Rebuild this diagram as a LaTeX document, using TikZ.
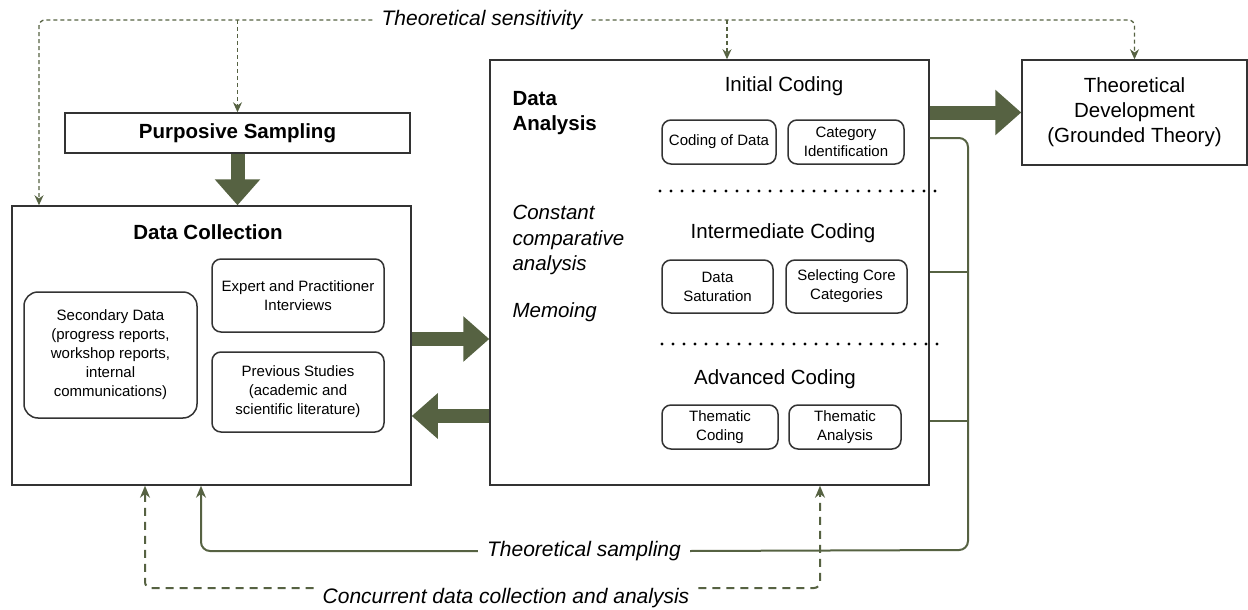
\documentclass[tikz,border=0pt]{standalone}
\usepackage{fontspec}
\setmainfont{Liberation Sans}
\usetikzlibrary{arrows.meta}
\definecolor{flow}{RGB}{86,98,66}
\definecolor{edge}{RGB}{51,51,51}
\begin{document}
\begin{tikzpicture}[x=1pt, y=-1pt,
box/.style={rectangle, draw=edge, line width=1.5pt, inner sep=0pt, align=center},
item/.style={rectangle, rounded corners=9pt, draw=edge, line width=1.5pt, inner sep=0pt, align=center, font=\fontsize{15}{19}\selectfont},
head/.style={font=\fontsize{20.5}{25}\selectfont\bfseries},
stage/.style={font=\fontsize{20.5}{25}\selectfont},
note/.style={font=\fontsize{20.5}{25.5}\selectfont\itshape, align=left, anchor=west},
loop/.style={font=\fontsize{21}{25}\selectfont\itshape, inner xsep=9pt, inner ysep=2pt},
bigarrow/.style={draw=flow, line width=14pt, -{Triangle[length=26pt, width=44pt]}},
sense/.style={draw=flow, line width=1.3pt, dash pattern=on 4pt off 3pt, rounded corners=6pt, -{Stealth[length=10pt, width=9pt]}},
conc/.style={draw=flow, line width=2pt, dash pattern=on 8pt off 6pt, rounded corners=6pt, -{Stealth[length=12pt, width=10pt]}},
back/.style={draw=flow, line width=2pt, rounded corners=9pt},
dots/.style={draw=black, line width=3.2pt, line cap=round, dash pattern=on 0pt off 11pt},
]
\useasboundingbox (0,0) rectangle (1248,610);

\node[box, minimum width=345pt, minimum height=40pt, head] (ps) at (237.5,133) {Purposive Sampling};
\node[box, minimum width=399pt, minimum height=279pt] (dc) at (211.5,345.5) {};
\node[head] (dct) at (208,232) {Data Collection};
\node[item, minimum width=173pt, minimum height=126pt, rounded corners=14pt] (sec) at (110.5,355) {Secondary Data\\(progress reports,\\workshop reports,\\internal\\communications)};
\node[item, minimum width=172pt, minimum height=73pt] (exp) at (298,295.5) {Expert and Practitioner\\Interviews};
\node[item, minimum width=172pt, minimum height=80pt] (prev) at (298,392) {Previous Studies\\(academic and\\scientific literature)};

\node[box, minimum width=439pt, minimum height=425pt] (da) at (709.5,272.5) {};
\node[head, anchor=west, align=left] (dat) at (509,113) {Data\\Analysis};
\node[note] (cca) at (509,240) {Constant\\comparative\\analysis};
\node[note] (memo) at (509,312) {Memoing};

\node[stage] (ini) at (784,86) {Initial Coding};
\node[item, minimum width=114pt, minimum height=44pt] (cod) at (719,142) {Coding of Data};
\node[item, minimum width=116pt, minimum height=44pt] (cat) at (846,142) {Category\\Identification};
\node[stage] (imd) at (783,233) {Intermediate Coding};
\node[item, minimum width=111pt, minimum height=53pt] (sat) at (717.5,286.5) {Data\\Saturation};
\node[item, minimum width=121pt, minimum height=53pt] (core) at (846.5,286.5) {Selecting Core\\Categories};
\node[stage] (adv) at (775,379) {Advanced Coding};
\node[item, minimum width=116pt, minimum height=44pt] (thc) at (720,427) {Thematic\\Coding};
\node[item, minimum width=112pt, minimum height=44pt] (tha) at (845,427) {Thematic\\Analysis};

\draw[dots] (660,191) -- (940,191);
\draw[dots] (662,344) -- (942,344);

\node[box, minimum width=225pt, minimum height=105pt, stage] (td) at (1134.5,112.5) {Theoretical\\Development\\(Grounded Theory)};

\node[loop] (sens) at (482,20) {Theoretical sensitivity};
\node[loop] (samp) at (584,551) {Theoretical sampling};
\node[loop] (cdca) at (506,598) {Concurrent data collection and analysis};

\coordinate (r1) at (0,339);
\coordinate (r2) at (0,416);
\coordinate (g1) at (968,138);
\coordinate (g2) at (968,272);
\coordinate (g3) at (968,421);
\coordinate (g4) at (968,550);
\coordinate (x1) at (39,0);
\coordinate (x2) at (727,0);
\coordinate (x3) at (145,0);
\coordinate (x4) at (201,0);
\coordinate (x5) at (820,0);

\draw[bigarrow] (ps) -- (dc.north -| ps);
\draw[bigarrow] (dc.east |- r1) -- (da.west |- r1);
\draw[bigarrow] (da.west |- r2) -- (dc.east |- r2);
\draw[bigarrow] (da.east |- td.west) -- (td.west);

\draw[sense] (sens.west) -| (dc.north -| x1);
\draw[sense] (sens.east) -| (td.north);
\draw[sense] (sens -| ps.north) -- (ps.north);
\draw[sense] (sens -| x2) -- (da.north -| x2);

\draw[back] (da.east |- g1) -| (g4) -- (samp.east);
\draw[back, -{Stealth[length=12pt, width=10pt]}] (samp.west) -| (dc.south -| x4);
\draw[back] (da.east |- g2) -- (g2);
\draw[back] (da.east |- g3) -- (g3);

\draw[conc] ([yshift=10pt]cdca.west) -| (dc.south -| x3);
\draw[conc] ([yshift=10pt]cdca.east) -| (da.south -| x5);
\end{tikzpicture}
\end{document}
